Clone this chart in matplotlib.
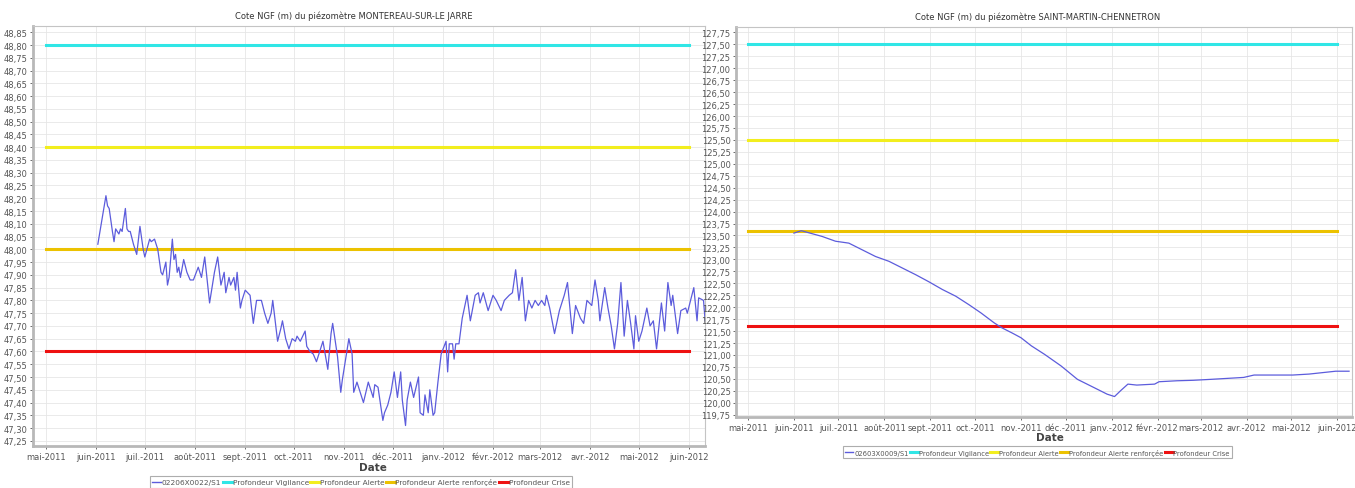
import numpy as np
import pandas as pd
import matplotlib
matplotlib.use('Agg')
import matplotlib.pyplot as plt
from matplotlib.lines import Line2D

plt.rcParams['font.family'] = ['DejaVu Sans']

# jours depuis le 01/05/2011 et cote NGF (m) - MONTEREAU-SUR-LE JARRE
jours_g = [32, 37, 38, 39, 41, 42, 43, 45, 46, 47, 49, 50, 51, 52, 54, 56, 58, 60, 61,
           64, 65, 67, 69, 71, 72, 74, 75, 76, 78, 79, 80, 81, 82, 83, 85, 87, 89, 91,
           94, 96, 98, 101, 104, 106, 108, 110, 111, 113, 114, 116, 117, 118, 120, 121,
           123, 126, 128, 130, 133, 135, 137, 139, 140, 143, 145, 146, 148, 150, 152,
           154, 155, 157, 160, 161, 163, 165, 167, 169, 171, 174, 176, 177, 180, 182,
           183, 185, 187, 189, 190, 192, 193, 196, 199, 200, 202, 203, 205, 208, 209,
           211, 213, 215, 217, 219, 220, 222, 223, 225, 227, 230, 231, 233, 234, 236,
           237, 239, 240, 242, 244, 247, 248, 249, 251, 252, 253, 255, 256, 257, 260,
           262, 265, 267, 268, 270, 273, 276, 278, 281, 283, 286, 288, 290, 292, 294,
           296, 298, 300, 302, 304, 306, 308, 309, 311, 314, 317, 320, 322, 325, 327,
           330, 332, 334, 337, 339, 341, 342, 345, 347, 349, 351, 353, 355, 357, 359,
           361, 363, 364, 366, 368, 371, 373, 375, 377, 380, 382, 384, 386, 387, 390,
           392, 395, 396, 400, 402, 403, 406, 407]
cote_g = [48.02, 48.21, 48.17, 48.16, 48.07, 48.03, 48.08, 48.06, 48.08, 48.07, 48.16,
          48.08, 48.07, 48.07, 48.02, 47.98, 48.09, 48.00, 47.97, 48.04, 48.03, 48.04,
          48.00, 47.91, 47.90, 47.95, 47.86, 47.89, 48.04, 47.96, 47.98, 47.91, 47.93,
          47.89, 47.96, 47.91, 47.88, 47.88, 47.93, 47.89, 47.97, 47.79, 47.91, 47.97,
          47.86, 47.91, 47.83, 47.89, 47.86, 47.89, 47.84, 47.91, 47.77, 47.80, 47.84,
          47.82, 47.71, 47.80, 47.80, 47.75, 47.71, 47.75, 47.80, 47.64, 47.69, 47.72,
          47.65, 47.61, 47.65, 47.64, 47.66, 47.64, 47.68, 47.62, 47.60, 47.59, 47.56,
          47.60, 47.64, 47.53, 47.67, 47.71, 47.58, 47.44, 47.49, 47.57, 47.65, 47.59,
          47.44, 47.48, 47.46, 47.40, 47.48, 47.46, 47.42, 47.47, 47.46, 47.33, 47.36,
          47.39, 47.44, 47.52, 47.42, 47.52, 47.41, 47.31, 47.41, 47.48, 47.42, 47.50,
          47.36, 47.35, 47.43, 47.36, 47.45, 47.35, 47.36, 47.48, 47.59, 47.64, 47.52,
          47.63, 47.63, 47.57, 47.63, 47.63, 47.68, 47.73, 47.82, 47.72, 47.82, 47.83,
          47.79, 47.83, 47.76, 47.82, 47.80, 47.76, 47.80, 47.82, 47.83, 47.92, 47.80,
          47.89, 47.72, 47.80, 47.77, 47.80, 47.78, 47.80, 47.78, 47.82, 47.77, 47.67,
          47.76, 47.82, 47.87, 47.67, 47.78, 47.73, 47.71, 47.80, 47.78, 47.88, 47.80,
          47.72, 47.85, 47.77, 47.70, 47.61, 47.71, 47.87, 47.66, 47.80, 47.71, 47.61,
          47.74, 47.64, 47.68, 47.77, 47.70, 47.72, 47.61, 47.79, 47.68, 47.87, 47.78,
          47.82, 47.67, 47.76, 47.77, 47.75, 47.85, 47.72, 47.81, 47.80, 47.72]

# SAINT-MARTIN-CHENNETRON
jours_d = [31, 36, 50, 59, 68, 77, 86, 95, 104, 113, 122, 131, 140, 149, 157, 166, 171,
           178, 184, 191, 200, 211, 222, 233, 242, 247, 251, 256, 262, 274, 277, 289,
           300, 312, 323, 334, 341, 352, 367, 378, 387, 396, 405]
cote_d = [123.55, 123.60, 123.48, 123.38, 123.34, 123.20, 123.06, 122.96, 122.82, 122.68,
          122.53, 122.37, 122.23, 122.05, 121.88, 121.67, 121.57, 121.46, 121.36, 121.19,
          121.01, 120.77, 120.49, 120.32, 120.18, 120.13, 120.25, 120.39, 120.37, 120.39,
          120.44, 120.46, 120.47, 120.49, 120.51, 120.53, 120.58, 120.58, 120.58, 120.60,
          120.63, 120.66, 120.66]

seuils_noms = ['Profondeur Vigilance', 'Profondeur Alerte',
               'Profondeur Alerte renforçée', 'Profondeur Crise']
seuils_g = [48.80, 48.40, 48.00, 47.60]
seuils_d = [127.50, 125.50, 123.60, 121.60]
couleurs = ['#30e6e6', '#f2ee1e', '#ecc200', '#ee1111']
mois = ['mai-2011', 'juin-2011', 'juil.-2011', 'août-2011', 'sept.-2011', 'oct.-2011',
        'nov.-2011', 'déc.-2011', 'janv.-2012', 'févr.-2012', 'mars-2012', 'avr.-2012',
        'mai-2012', 'juin-2012']

t0 = pd.Timestamp('2011-05-01')
dates_mois = pd.date_range('2011-05-01', periods=len(mois), freq='MS')
bleu = '#5c5cdc'


def trace(ax, jours, cote, seuils, ylim, pas):
    d = t0 + pd.to_timedelta(jours, unit='D')
    for s, c in zip(seuils, couleurs):
        ax.plot([dates_mois[0], dates_mois[-1]], [s, s], color=c, lw=2.2, zorder=2)
    ax.plot(d, cote, color=bleu, lw=0.9, zorder=3)
    ax.set_xlim(t0 - pd.Timedelta(days=8), t0 + pd.Timedelta(days=407))
    ax.set_ylim(*ylim)
    ax.set_xticks(dates_mois)
    ax.set_xticklabels(mois)
    ticks = np.round(np.arange(np.ceil(ylim[0] / pas) * pas, ylim[1], pas), 2)
    ax.set_yticks(ticks)
    ax.set_yticklabels(['{:.2f}'.format(v).replace('.', ',') for v in ticks])
    ax.tick_params(labelsize=6.0, colors='#555555', length=2, width=0.6, pad=2)
    ax.grid(True, color='#e6e6e6', lw=0.6)
    ax.set_axisbelow(True)
    for sp in ax.spines.values():
        sp.set_color('#c4c4c4')
        sp.set_linewidth(0.8)
    ax.spines['left'].set_linewidth(2)
    ax.spines['bottom'].set_linewidth(2)
    ax.spines['left'].set_color('#b8b8b8')
    ax.spines['bottom'].set_color('#b8b8b8')


fig = plt.figure(figsize=(13.55, 4.89), dpi=100)
ax1 = fig.add_axes([0.0244, 0.086, 0.496, 0.859])
ax2 = fig.add_axes([0.5432, 0.145, 0.4546, 0.7975])

trace(ax1, jours_g, cote_g, seuils_g, (47.23, 48.875), 0.05)
trace(ax2, jours_d, cote_d, seuils_d, (119.70, 127.86), 0.25)

fig.text(0.2613, 0.967, 'Cote NGF (m) du piézomètre MONTEREAU-SUR-LE JARRE',
         ha='center', va='center', fontsize=6.0, color='#333333')
fig.text(0.766, 0.965, 'Cote NGF (m) du piézomètre SAINT-MARTIN-CHENNETRON',
         ha='center', va='center', fontsize=6.0, color='#333333')
fig.text(0.2753, 0.043, 'Date', ha='center', va='center', fontsize=7.5,
         fontweight='bold', color='#444444')
fig.text(0.775, 0.104, 'Date', ha='center', va='center', fontsize=7.5,
         fontweight='bold', color='#444444')


def legende(nom, x, y, taille):
    h = [Line2D([], [], color=bleu, lw=1)]
    h += [Line2D([], [], color=c, lw=2.2) for c in couleurs]
    leg = fig.legend(h, [nom] + seuils_noms, loc='center', bbox_to_anchor=(x, y),
                     ncol=5, fontsize=taille, frameon=True, fancybox=False,
                     handlelength=1.2, handletextpad=0.1, columnspacing=0.2,
                     borderpad=0.3, borderaxespad=0)
    leg.get_frame().set_edgecolor('#999999')
    leg.get_frame().set_linewidth(0.8)
    for t in leg.get_texts():
        t.set_color('#555555')


legende('02206X0022/S1', 0.2664, 0.0125, 5.3)
legende('02603X0009/S1', 0.7657, 0.0736, 4.9)

fig.savefig('out.png', dpi=100)
